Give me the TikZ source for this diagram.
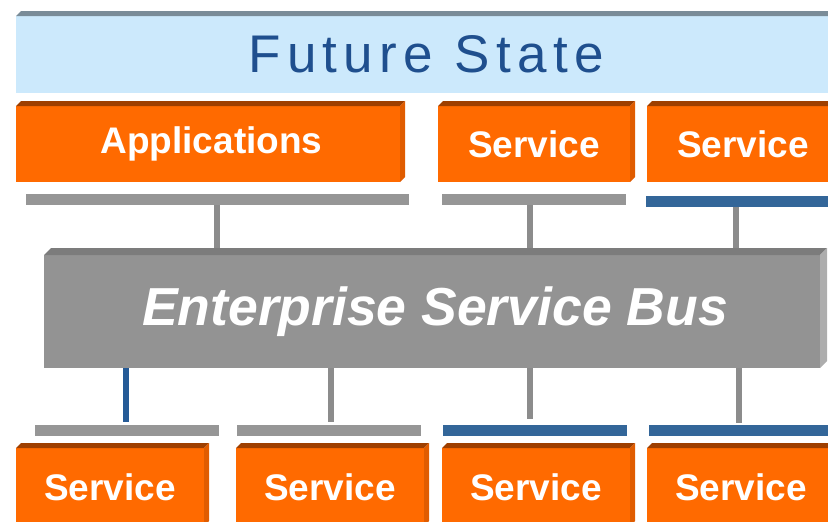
\documentclass[tikz,border=0pt]{standalone}
\usepackage{fontspec}
\setmainfont{Liberation Sans}
\newfontfamily\titlefont{Liberation Sans}[LetterSpace=12]
\usetikzlibrary{positioning}

\definecolor{boxorange}{HTML}{FF6A00}
\definecolor{boxtop}{HTML}{9E3F00}
\definecolor{boxside}{HTML}{E05C00}
\definecolor{bannerblue}{HTML}{CCE9FC}
\definecolor{bannertop}{HTML}{7A8C98}
\definecolor{titleblue}{HTML}{1F4F8E}
\definecolor{busgrey}{HTML}{939393}
\definecolor{bustop}{HTML}{7C7C7C}
\definecolor{busside}{HTML}{ADADAD}
\definecolor{bargrey}{HTML}{969696}
\definecolor{barblue}{HTML}{336699}
\definecolor{stemgrey}{HTML}{8C8C8C}
\definecolor{stemblue}{HTML}{255A96}

% top and right faces of a raised box
\newcommand{\drawbevel}[4]{%
  \fill[#2] (#1.north west) -- ++(#4,#4) -- ([shift={(#4,#4)}]#1.north east) -- (#1.north east) -- cycle;
  \fill[#3] (#1.north east) -- ++(#4,#4) -- ([shift={(#4,#4)}]#1.south east) -- (#1.south east) -- cycle;}

\begin{document}
\begin{tikzpicture}[x=1pt,y=-1pt]
\tikzstyle{block}=[rectangle, fill=boxorange, text=white, inner sep=0pt, outer sep=0pt, anchor=north west, font=\fontsize{37}{40}\selectfont\bfseries]
\tikzstyle{bar}=[rectangle, fill=bargrey, minimum width=184pt, minimum height=11pt, inner sep=0pt, outer sep=0pt, anchor=north west]
\tikzstyle{stem}=[line width=6pt, draw=stemgrey]

% 1. Frame
%%%%%%%%%
\clip (0,0) rectangle (828,522);

% 2. Nodes
%%%%%%%%%%
\node[rectangle, fill=bannerblue, text=titleblue, inner sep=0pt, outer sep=0pt, anchor=north west,
      minimum width=820pt, minimum height=77pt, font=\titlefont\fontsize{53}{58}\selectfont] (state) at (16,16) {Future State};
\node[anchor=base east, font=\fontsize{37}{40}\selectfont\bfseries] (cut) at (4,163) {s};

\node[block, minimum width=384pt, minimum height=76pt, text width=384pt, align=center] (apps) at (16,106) {\hspace*{7pt}Applications};
\node[block, minimum width=192pt, minimum height=76pt] (svcA) at (438,106) {Service};
\node[block, minimum width=192pt, minimum height=76pt] (svcB) [right=17pt of svcA] {Service};

\node[bar, minimum width=383pt] (appsbar) at (26,194) {};
\node[bar] (svcAbar) at (442,194) {};
\node[bar, fill=barblue] (svcBbar) at (646,196) {};

\node[rectangle, fill=busgrey, text=white, inner sep=0pt, outer sep=0pt, anchor=north west,
      minimum width=776pt, minimum height=113pt, font=\fontsize{53.5}{58}\selectfont\bfseries\itshape] (esb) at (44,255) {\hspace*{6pt}Enterprise Service Bus};

\node[bar] (lowAbar) at (35,425) {};
\node[bar] (lowBbar) at (237,425) {};
\node[bar, fill=barblue] (lowCbar) at (443,425) {};
\node[bar, fill=barblue] (lowDbar) at (649,425) {};

\node[block, minimum width=188pt, minimum height=78pt] (lowA) at (16,448) {Service};
\node[block, minimum width=188pt, minimum height=78pt] (lowB) [right=32pt of lowA] {Service};
\node[block, minimum width=188pt, minimum height=78pt] (lowC) [right=18pt of lowB] {Service};
\node[block, minimum width=188pt, minimum height=78pt] (lowD) [right=17pt of lowC] {Service};

% 3. Bevels
%%%%%%%%%%%
\drawbevel{state}{bannertop}{bannertop}{5pt}
\drawbevel{apps}{boxtop}{boxside}{5pt}
\drawbevel{svcA}{boxtop}{boxside}{5pt}
\drawbevel{svcB}{boxtop}{boxside}{5pt}
\drawbevel{esb}{bustop}{busside}{7pt}
\drawbevel{lowA}{boxtop}{boxside}{5pt}
\drawbevel{lowB}{boxtop}{boxside}{5pt}
\drawbevel{lowC}{boxtop}{boxside}{5pt}
\drawbevel{lowD}{boxtop}{boxside}{5pt}

% 4. Connectors
%%%%%%%%%%%%%%%
\draw[stem, shorten >=7pt] ([xshift=-1pt]appsbar.south) -- ([xshift=-1pt]appsbar.south |- esb.north);
\draw[stem, shorten >=7pt] ([xshift=-4pt]svcAbar.south) -- ([xshift=-4pt]svcAbar.south |- esb.north);
\draw[stem, shorten >=7pt] ([xshift=-2pt]svcBbar.south) -- ([xshift=-2pt]svcBbar.south |- esb.north);

\draw[stem, draw=stemblue, shorten >=3pt] ([xshift=-1pt]esb.south -| lowAbar.north) -- ([xshift=-1pt]lowAbar.north);
\draw[stem, shorten >=3pt] ([xshift=2pt]esb.south -| lowBbar.north) -- ([xshift=2pt]lowBbar.north);
\draw[stem, shorten >=6pt] ([xshift=-5pt]esb.south -| lowCbar.north) -- ([xshift=-5pt]lowCbar.north);
\draw[stem, shorten >=2pt] ([xshift=-2pt]esb.south -| lowDbar.north) -- ([xshift=-2pt]lowDbar.north);

\end{tikzpicture}
\end{document}
